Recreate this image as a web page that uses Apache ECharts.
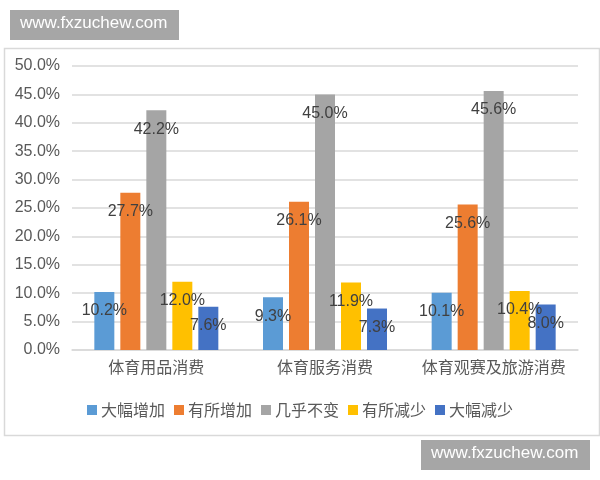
<!DOCTYPE html>
<html><head><meta charset="utf-8">
<script src="https://cdn.jsdelivr.net/npm/echarts@6/dist/echarts.min.js"></script>
<style>html,body{margin:0;padding:0;background:#fff}#c{width:600px;height:480px}</style>
</head><body><div id="c"></div>
<script>
const categories = ['体育用品消费', '体育服务消费', '体育观赛及旅游消费'];
const seriesNames = ['大幅增加', '有所增加', '几乎不变', '有所减少', '大幅减少'];
const bigIncrease = [10.2, 9.3, 10.1];
const someIncrease = [27.7, 26.1, 25.6];
const unchanged = [42.2, 45.0, 45.6];
const someDecrease = [12.0, 11.9, 10.4];
const bigDecrease = [7.6, 7.3, 8.0];
const colors = ['#5B9BD5', '#ED7D31', '#A5A5A5', '#FFC000', '#4472C4'];
const values = [bigIncrease, someIncrease, unchanged, someDecrease, bigDecrease];
const font = '"Noto Sans CJK SC", "Liberation Sans", sans-serif';

const chart = echarts.init(document.getElementById('c'));
chart.setOption({
  backgroundColor: '#fff',
  animation: false,
  textStyle: { fontFamily: font },
  graphic: [
    { type: 'rect', left: 2, top: 46, shape: { width: 595, height: 387 }, style: { fill: 'none', stroke: '#d9d9d9', lineWidth: 1.5 }, z: 0 },
    { type: 'rect', left: 10, top: 10, shape: { width: 169, height: 30 }, style: { fill: '#a6a6a6' }, z: 10 },
    { type: 'text', left: 20, top: 15, style: { text: 'www.fxzuchew.com', fill: '#fff', font: '17px "Liberation Sans", sans-serif' }, z: 11 },
    { type: 'rect', left: 421, top: 440, shape: { width: 169, height: 30 }, style: { fill: '#a6a6a6' }, z: 10 },
    { type: 'text', left: 431, top: 445, style: { text: 'www.fxzuchew.com', fill: '#fff', font: '17px "Liberation Sans", sans-serif' }, z: 11 }
  ],
  grid: { left: 72, right: 22, top: 66, bottom: 130 },
  legend: {
    data: seriesNames,
    top: 397,
    left: 'center',
    icon: 'rect',
    itemWidth: 10,
    itemHeight: 10,
    itemGap: 9,
    textStyle: { fontSize: 16, color: '#595959', fontFamily: font, padding: [0, 0, 0, -1] }
  },
  xAxis: {
    type: 'category',
    data: categories,
    axisLine: { lineStyle: { color: '#d9d9d9', width: 1.5 } },
    axisTick: { show: false },
    axisLabel: { interval: 0, fontSize: 16, color: '#595959', margin: 9, fontFamily: font }
  },
  yAxis: {
    type: 'value',
    min: 0, max: 50, interval: 5,
    axisLine: { show: false },
    axisTick: { show: false },
    splitLine: { lineStyle: { color: '#d9d9d9', width: 1.5 } },
    axisLabel: { fontSize: 16, color: '#595959', margin: 12, fontFamily: '"Liberation Sans", sans-serif', formatter: v => v.toFixed(1) + '%' }
  },
  series: seriesNames.map((n, i) => ({
    name: n,
    type: 'bar',
    data: values[i],
    barWidth: 20,
    barGap: '30%',
    itemStyle: { color: colors[i] },
    label: {
      show: true,
      position: 'insideTop',
      distance: 11,
      fontSize: 16,
      color: '#404040',
      fontFamily: '"Liberation Sans", sans-serif',
      formatter: p => p.value.toFixed(1) + '%'
    }
  }))
});
</script></body></html>
